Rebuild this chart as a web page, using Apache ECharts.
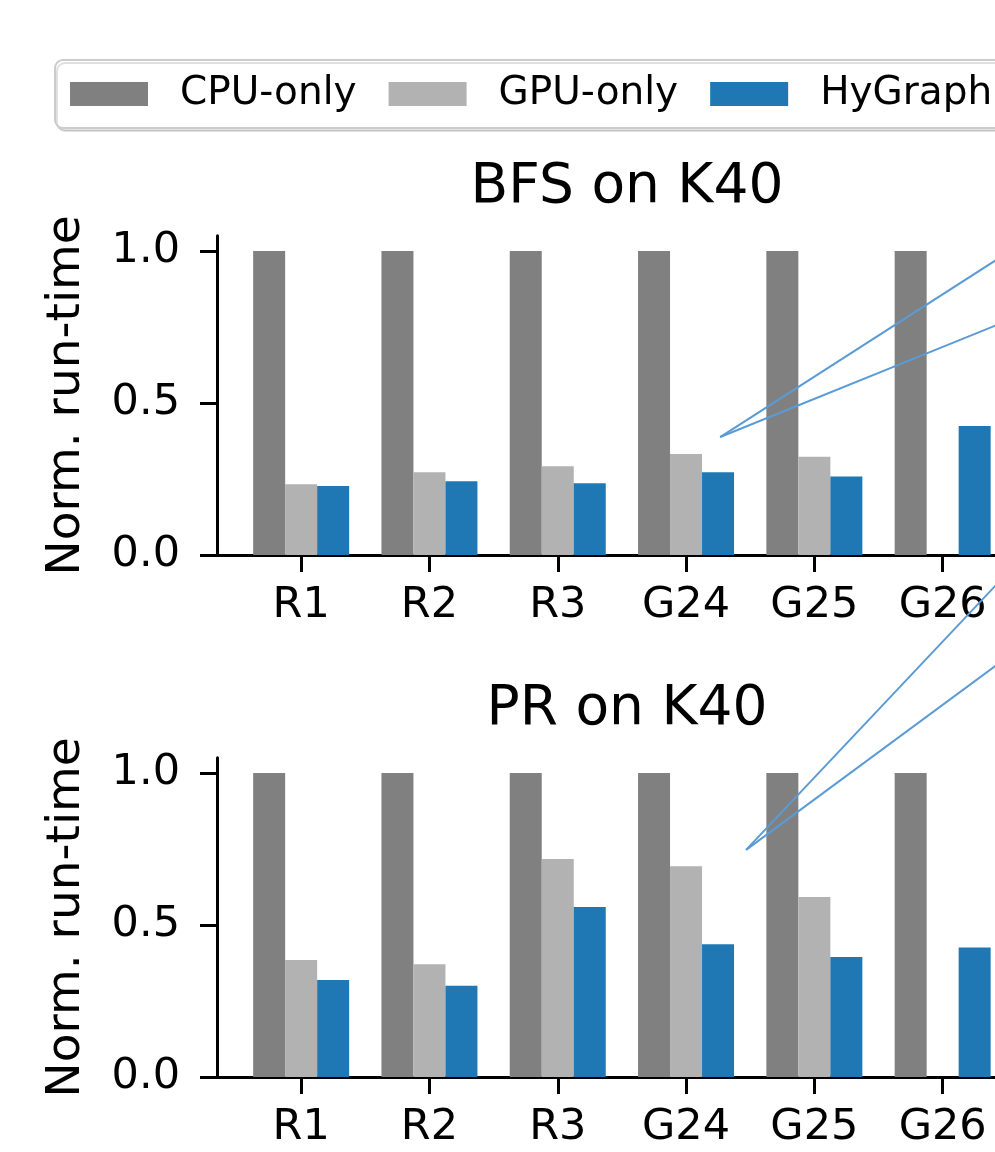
<!DOCTYPE html>
<html>
<head>
<meta charset="utf-8">
<script src="https://cdn.jsdelivr.net/npm/echarts@6/dist/echarts.min.js"></script>
<style>
  html, body { margin: 0; background: #fff; }
  #chart { width: 995px; height: 1152px; }
</style>
</head>
<body>
<div id="chart"></div>
<script>
var categories = ['R1', 'R2', 'R3', 'G24', 'G25', 'G26'];
var seriesNames = ['CPU-only', 'GPU-only', 'HyGraph'];
var yTicks = [0, 0.5, 1.0];

var bfsCpu = [1.0, 1.0, 1.0, 1.0, 1.0, 1.0];
var bfsGpu = [0.233, 0.272, 0.292, 0.332, 0.323, null];
var bfsHy  = [0.227, 0.243, 0.236, 0.272, 0.258, 0.424];

var prCpu = [1.0, 1.0, 1.0, 1.0, 1.0, 1.0];
var prGpu = [0.385, 0.371, 0.717, 0.693, 0.592, null];
var prHy  = [0.319, 0.300, 0.559, 0.437, 0.395, 0.426];

// connector lines toward the (cropped) zoom inset, in data units (x = category index)
var bfsZoomLines = [[[3.266, 0.388], [6.22, 1.188]], [[3.266, 0.388], [6.22, 0.893]]];
var prZoomLines  = [[[3.468, 0.747], [6.22, 1.978]], [[3.468, 0.747], [6.22, 1.604]]];

var colors = ['#808080', '#b2b2b2', '#1f77b4'];
var FONT = 'DejaVu Sans';
var BAND = 128.3;     // px per category
var SPINE_PAD = 20;   // spine starts this far left of the first category band

var chart = echarts.init(document.getElementById('chart'));

// grid pairs: "bars" grid holds the category axis, "frame" grid draws spines + y axis
function gridsFor(top){
  return [
    {left: 217 + SPINE_PAD, top: top, width: BAND * categories.length, height: 319.2, outerBoundsMode: 'none'},
    {left: 217, top: top, width: 900, height: 319.2, outerBoundsMode: 'none'}
  ];
}

function catAxis(gi){
  return {
    type: 'category', gridIndex: gi, data: categories, boundaryGap: true,
    axisLine: {show: false},
    axisTick: {show: true, alignWithLabel: true, length: 17, lineStyle: {color: '#000', width: 3}},
    axisLabel: {fontSize: 43, fontFamily: FONT, color: '#000', margin: 29, hideOverlap: false}
  };
}

function frameXAxis(gi){
  var min = -(SPINE_PAD + BAND / 2) / BAND;
  return {
    type: 'value', gridIndex: gi, min: min, max: min + 900 / BAND,
    splitLine: {show: false},
    axisLine: {show: true, onZero: false, lineStyle: {color: '#000', width: 3}},
    axisTick: {show: false}, axisLabel: {show: false}
  };
}

function hiddenYAxis(gi){
  return {type: 'value', gridIndex: gi, min: 0, max: 1.05, show: false};
}

function frameYAxis(gi){
  return {
    type: 'value', gridIndex: gi, min: 0, max: 1.05,
    name: 'Norm. run-time', nameLocation: 'middle', nameGap: 127, nameRotate: 90,
    nameTextStyle: {fontSize: 47, fontFamily: FONT, color: '#000'},
    splitLine: {show: false},
    axisLine: {show: true, onZero: false, lineStyle: {color: '#000', width: 3}},
    axisTick: {show: true, length: 17, lineStyle: {color: '#000', width: 3}, customValues: yTicks},
    axisLabel: {
      customValues: yTicks, fontSize: 43, fontFamily: FONT, color: '#000', margin: 37,
      formatter: function(v){ return v.toFixed(1); }
    }
  };
}

function barSeries(name, data, idx, color){
  return {
    name: name, type: 'bar', xAxisIndex: idx, yAxisIndex: idx,
    data: data.map(function(v){ return v == null ? '-' : v; }),
    barWidth: 32, barGap: '0%', itemStyle: {color: color}
  };
}

function lineSeries(lines, idx){
  return lines.map(function(pts){
    return {
      name: 'zoom', type: 'line', xAxisIndex: idx, yAxisIndex: idx,
      data: pts, showSymbol: false, symbol: 'none', clip: false, silent: true,
      lineStyle: {color: '#5b9bd5', width: 2}, z: 5
    };
  });
}

var series = [
  barSeries('CPU-only', bfsCpu, 0, colors[0]),
  barSeries('GPU-only', bfsGpu, 0, colors[1]),
  barSeries('HyGraph', bfsHy, 0, colors[2]),
  barSeries('CPU-only', prCpu, 2, colors[0]),
  barSeries('GPU-only', prGpu, 2, colors[1]),
  barSeries('HyGraph', prHy, 2, colors[2])
].concat(lineSeries(bfsZoomLines, 1), lineSeries(prZoomLines, 3));

option = {
  backgroundColor: '#fff',
  animation: false,
  textStyle: {fontFamily: FONT},
  title: [
    {text: 'BFS on K40', left: 622, top: 155, textAlign: 'center',
     textStyle: {fontSize: 55, fontWeight: 'normal', fontFamily: FONT, color: '#000'}},
    {text: 'PR on K40', left: 622, top: 677, textAlign: 'center',
     textStyle: {fontSize: 55, fontWeight: 'normal', fontFamily: FONT, color: '#000'}}
  ],
  legend: {
    data: seriesNames, left: 55, top: 60, width: 1400, icon: 'rect',
    itemWidth: 78, itemHeight: 24, itemGap: 32,
    padding: [12, 15, 12, 15],
    borderColor: '#cccccc', borderWidth: 2, borderRadius: 8,
    shadowColor: 'rgba(0,0,0,0.12)', shadowOffsetX: 2, shadowOffsetY: 3, shadowBlur: 0,
    backgroundColor: '#fff',
    textStyle: {fontSize: 39, fontFamily: FONT, color: '#000', padding: [0, 0, 0, 27], lineHeight: 44}
  },
  grid: gridsFor(235.8).concat(gridsFor(757.8)),
  xAxis: [catAxis(0), frameXAxis(1), catAxis(2), frameXAxis(3)],
  yAxis: [hiddenYAxis(0), frameYAxis(1), hiddenYAxis(2), frameYAxis(3)],
  series: series
};

chart.setOption(option);
</script>
</body>
</html>
